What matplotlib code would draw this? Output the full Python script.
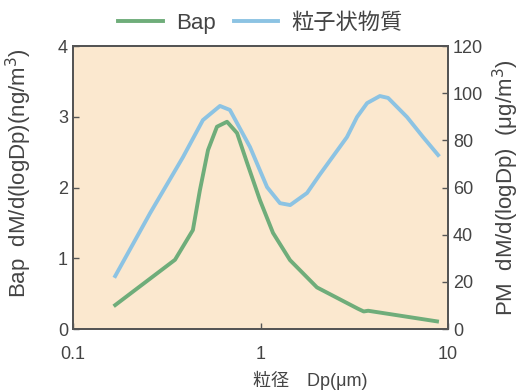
import numpy as np
import matplotlib.pyplot as plt
from matplotlib.ticker import FixedLocator, NullLocator

plt.rcParams['font.family'] = ['Liberation Sans', 'Noto Sans CJK JP', 'DejaVu Sans']

# Bap (left axis, ng/m3)
bap_dp = [0.168, 0.35, 0.436, 0.475, 0.525, 0.586, 0.663, 0.75, 0.848, 0.994,
          1.166, 1.437, 2.0, 3.3, 3.55, 3.75, 8.73]
bap_val = [0.34, 0.98, 1.40, 1.96, 2.53, 2.86, 2.93, 2.77, 2.35, 1.82,
           1.36, 0.975, 0.59, 0.29, 0.25, 0.26, 0.11]

# particulate matter (right axis, ug/m3)
pm_dp = [0.168, 0.258, 0.386, 0.493, 0.608, 0.687, 0.879, 1.084, 1.27, 1.44,
         1.77, 2.07, 2.89, 3.27, 3.7, 4.33, 4.79, 6.04, 7.36, 8.85]
pm_val = [22.5, 49.2, 72.9, 88.6, 94.6, 92.9, 77.2, 60.2, 53.4, 52.6,
          57.7, 65.5, 81.4, 89.9, 95.8, 98.8, 98.0, 89.9, 81.4, 73.8]

bap_color = '#6fad7a'
pm_color = '#8cc3e3'
axis_color = '#555555'
text_color = '#444444'

fig = plt.figure(figsize=(5.21, 3.9), dpi=100)
ax = fig.add_axes([0.140, 0.156, 0.720, 0.726])
ax.set_facecolor('#fbe8cf')
ax2 = ax.twinx()

l1, = ax.plot(bap_dp, bap_val, color=bap_color, lw=2.8, label='Bap')
l2, = ax2.plot(pm_dp, pm_val, color=pm_color, lw=2.8, label='粒子状物質')

ax.set_xscale('log')
ax.set_xlim(0.1, 10)
ax.set_ylim(0, 4)
ax2.set_ylim(0, 120)
ax.xaxis.set_major_locator(FixedLocator([0.1, 1, 10]))
ax.xaxis.set_minor_locator(NullLocator())
ax.set_xticklabels(['0.1', '1', '10'])
ax.set_yticks([0, 1, 2, 3, 4])
ax2.set_yticks([0, 20, 40, 60, 80, 100, 120])

for a in (ax, ax2):
    for s in a.spines.values():
        s.set_color(axis_color)
        s.set_linewidth(1.4)
    a.tick_params(direction='in', length=4, width=1, colors=axis_color,
                  labelsize=13, labelcolor=text_color)
ax.tick_params(axis='x', pad=12)

ax.set_ylabel('Bap  dM/d(logDp)(ng/m$^3$)', fontsize=16, color=text_color)
ax.yaxis.set_label_coords(-0.105, 0.55)
ax2.set_ylabel('PM  dM/d(logDp)  (μg/m$^3$)', fontsize=16, color=text_color)
ax2.yaxis.set_label_coords(1.115, 0.5)
ax.set_xlabel('粒径　Dp(μm)', fontsize=13, color=text_color)
ax.xaxis.set_label_coords(0.632, -0.148)

fig.legend(handles=[l1, l2], loc='center', bbox_to_anchor=(0.5, 0.94),
           ncol=2, frameon=False, fontsize=16, handlelength=2.0,
           columnspacing=0.8, handletextpad=0.6, labelcolor=text_color)

fig.savefig('out.png', dpi=100)
